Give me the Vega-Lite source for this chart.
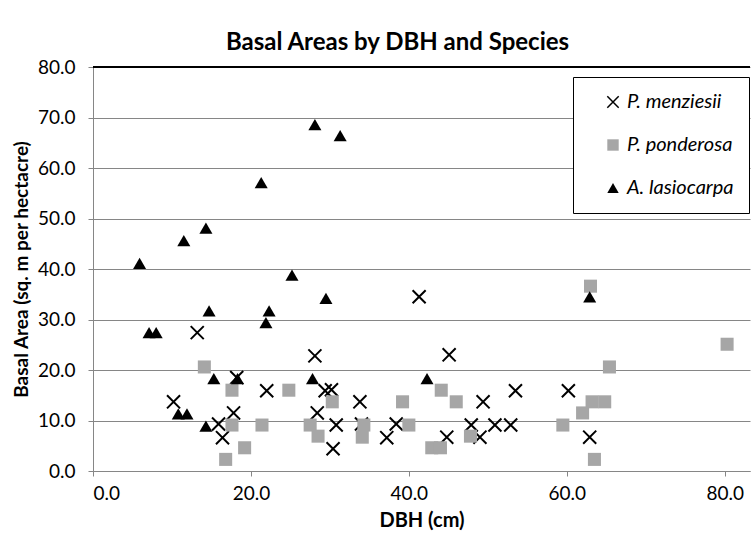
{
  "$schema": "https://vega.github.io/schema/vega-lite/v6.json",
  "width": 657,
  "height": 404,
  "autosize": "none",
  "padding": {"left": 93, "top": 67, "right": 5, "bottom": 70},
  "background": "white",
  "config": {"font": "Lato", "view": {"stroke": null}},
  "title": {"text": "Basal Areas by DBH and Species", "fontSize": 24, "fontWeight": "bold", "font": "Lato", "color": "#000000", "anchor": "middle", "dx": -24, "offset": 3},
  "data": {"values": [
    {"species": "P. menziesii", "dbh": 13.2, "ba": 27.4},
    {"species": "P. menziesii", "dbh": 28.1, "ba": 22.8},
    {"species": "P. menziesii", "dbh": 18.2, "ba": 18.5},
    {"species": "P. menziesii", "dbh": 22.0, "ba": 15.9},
    {"species": "P. menziesii", "dbh": 29.4, "ba": 15.9},
    {"species": "P. menziesii", "dbh": 30.2, "ba": 16.1},
    {"species": "P. menziesii", "dbh": 10.2, "ba": 13.7},
    {"species": "P. menziesii", "dbh": 17.8, "ba": 11.5},
    {"species": "P. menziesii", "dbh": 28.4, "ba": 11.5},
    {"species": "P. menziesii", "dbh": 33.8, "ba": 13.7},
    {"species": "P. menziesii", "dbh": 15.9, "ba": 9.3},
    {"species": "P. menziesii", "dbh": 16.4, "ba": 6.6},
    {"species": "P. menziesii", "dbh": 30.8, "ba": 9.1},
    {"species": "P. menziesii", "dbh": 30.4, "ba": 4.4},
    {"species": "P. menziesii", "dbh": 34.0, "ba": 9.3},
    {"species": "P. menziesii", "dbh": 37.2, "ba": 6.6},
    {"species": "P. menziesii", "dbh": 38.4, "ba": 9.3},
    {"species": "P. menziesii", "dbh": 41.3, "ba": 34.5},
    {"species": "P. menziesii", "dbh": 45.1, "ba": 23.0},
    {"species": "P. menziesii", "dbh": 49.4, "ba": 13.7},
    {"species": "P. menziesii", "dbh": 53.5, "ba": 15.9},
    {"species": "P. menziesii", "dbh": 44.8, "ba": 6.7},
    {"species": "P. menziesii", "dbh": 47.9, "ba": 9.1},
    {"species": "P. menziesii", "dbh": 49.0, "ba": 6.7},
    {"species": "P. menziesii", "dbh": 50.9, "ba": 9.1},
    {"species": "P. menziesii", "dbh": 52.9, "ba": 9.1},
    {"species": "P. menziesii", "dbh": 60.2, "ba": 15.9},
    {"species": "P. menziesii", "dbh": 62.9, "ba": 6.7},
    {"species": "P. ponderosa", "dbh": 14.1, "ba": 20.6},
    {"species": "P. ponderosa", "dbh": 17.6, "ba": 16.0},
    {"species": "P. ponderosa", "dbh": 24.8, "ba": 16.0},
    {"species": "P. ponderosa", "dbh": 30.3, "ba": 13.7},
    {"species": "P. ponderosa", "dbh": 17.6, "ba": 9.1},
    {"species": "P. ponderosa", "dbh": 21.4, "ba": 9.1},
    {"species": "P. ponderosa", "dbh": 27.5, "ba": 9.1},
    {"species": "P. ponderosa", "dbh": 28.5, "ba": 6.9},
    {"species": "P. ponderosa", "dbh": 19.2, "ba": 4.6},
    {"species": "P. ponderosa", "dbh": 16.8, "ba": 2.3},
    {"species": "P. ponderosa", "dbh": 34.3, "ba": 9.1},
    {"species": "P. ponderosa", "dbh": 34.1, "ba": 6.7},
    {"species": "P. ponderosa", "dbh": 39.2, "ba": 13.7},
    {"species": "P. ponderosa", "dbh": 40.0, "ba": 9.1},
    {"species": "P. ponderosa", "dbh": 44.1, "ba": 16.0},
    {"species": "P. ponderosa", "dbh": 46.0, "ba": 13.7},
    {"species": "P. ponderosa", "dbh": 42.9, "ba": 4.6},
    {"species": "P. ponderosa", "dbh": 44.0, "ba": 4.6},
    {"species": "P. ponderosa", "dbh": 47.8, "ba": 6.9},
    {"species": "P. ponderosa", "dbh": 59.5, "ba": 9.1},
    {"species": "P. ponderosa", "dbh": 62.0, "ba": 11.5},
    {"species": "P. ponderosa", "dbh": 63.2, "ba": 13.7},
    {"species": "P. ponderosa", "dbh": 64.8, "ba": 13.7},
    {"species": "P. ponderosa", "dbh": 63.0, "ba": 36.6},
    {"species": "P. ponderosa", "dbh": 65.4, "ba": 20.6},
    {"species": "P. ponderosa", "dbh": 63.5, "ba": 2.3},
    {"species": "P. ponderosa", "dbh": 80.3, "ba": 25.1},
    {"species": "A. lasiocarpa", "dbh": 28.1, "ba": 68.6},
    {"species": "A. lasiocarpa", "dbh": 31.3, "ba": 66.4},
    {"species": "A. lasiocarpa", "dbh": 21.3, "ba": 57.1},
    {"species": "A. lasiocarpa", "dbh": 14.3, "ba": 48.1},
    {"species": "A. lasiocarpa", "dbh": 11.5, "ba": 45.6},
    {"species": "A. lasiocarpa", "dbh": 5.9, "ba": 41.1},
    {"species": "A. lasiocarpa", "dbh": 25.2, "ba": 38.8},
    {"species": "A. lasiocarpa", "dbh": 29.5, "ba": 34.2},
    {"species": "A. lasiocarpa", "dbh": 14.7, "ba": 31.7},
    {"species": "A. lasiocarpa", "dbh": 22.3, "ba": 31.7},
    {"species": "A. lasiocarpa", "dbh": 21.9, "ba": 29.4},
    {"species": "A. lasiocarpa", "dbh": 7.1, "ba": 27.4},
    {"species": "A. lasiocarpa", "dbh": 8.0, "ba": 27.4},
    {"species": "A. lasiocarpa", "dbh": 15.3, "ba": 18.3},
    {"species": "A. lasiocarpa", "dbh": 18.3, "ba": 18.3},
    {"species": "A. lasiocarpa", "dbh": 27.8, "ba": 18.3},
    {"species": "A. lasiocarpa", "dbh": 10.8, "ba": 11.3},
    {"species": "A. lasiocarpa", "dbh": 11.9, "ba": 11.3},
    {"species": "A. lasiocarpa", "dbh": 14.3, "ba": 8.9},
    {"species": "A. lasiocarpa", "dbh": 42.3, "ba": 18.3},
    {"species": "A. lasiocarpa", "dbh": 62.9, "ba": 34.5}
  ]},
  "layer": [
    {
      "mark": {"type": "rule", "color": "#000000", "strokeWidth": 1.5},
      "encoding": {"y": {"datum": 80, "type": "quantitative"}}
    },
    {
      "mark": {"type": "point", "filled": true, "size": 170, "opacity": 1, "strokeWidth": 2},
      "encoding": {
        "x": {
          "field": "dbh", "type": "quantitative",
          "scale": {"domain": [0, 83.2], "nice": false, "zero": false},
          "axis": {
            "values": [0, 20, 40, 60, 80], "format": ".1f", "grid": false,
            "labelFontSize": 19, "labelColor": "#000000", "labelPadding": 8,
            "tickSize": 5, "tickColor": "#868686", "domainColor": "#868686",
            "title": "DBH (cm)", "titleFontSize": 20, "titleFontWeight": "bold", "titleColor": "#000000", "titlePadding": 7
          }
        },
        "y": {
          "field": "ba", "type": "quantitative",
          "scale": {"domain": [0, 80], "nice": false},
          "axis": {
            "values": [0, 10, 20, 30, 40, 50, 60, 70, 80], "format": ".1f", "grid": true,
            "gridColor": "#868686", "gridWidth": 1,
            "labelFontSize": 19, "labelColor": "#000000", "labelPadding": 13,
            "tickSize": 5, "tickColor": "#868686", "domainColor": "#868686",
            "title": "Basal Area (sq. m per hectacre)", "titleFontSize": 19, "titleFontWeight": "bold", "titleColor": "#000000", "titlePadding": 6
          }
        },
        "shape": {
          "field": "species", "type": "nominal",
          "scale": {"domain": ["P. menziesii", "P. ponderosa", "A. lasiocarpa"], "range": ["M-1,-1L1,1M-1,1L1,-1", "square", "triangle-up"]},
          "legend": {"orient": "none", "legendX": 480, "legendY": 10, "title": null, "strokeColor": "#000000", "fillColor": "#ffffff", "padding": 15, "rowPadding": 23, "labelFontSize": 20, "labelFontStyle": "italic", "labelColor": "#000000", "symbolSize": 130, "symbolStrokeWidth": 1.5, "symbolOffset": 15, "labelOffset": 4}
        },
        "fill": {
          "field": "species", "type": "nominal",
          "scale": {"domain": ["P. menziesii", "P. ponderosa", "A. lasiocarpa"], "range": ["transparent", "#a6a6a6", "#000000"]},
          "legend": {"orient": "none", "legendX": 480, "legendY": 10, "title": null, "strokeColor": "#000000", "fillColor": "#ffffff", "padding": 15, "rowPadding": 23, "labelFontSize": 20, "labelFontStyle": "italic", "labelColor": "#000000", "symbolSize": 130, "symbolStrokeWidth": 1.5, "symbolOffset": 15, "labelOffset": 4}
        },
        "stroke": {
          "field": "species", "type": "nominal",
          "scale": {"domain": ["P. menziesii", "P. ponderosa", "A. lasiocarpa"], "range": ["#000000", "transparent", "transparent"]},
          "legend": {"orient": "none", "legendX": 480, "legendY": 10, "title": null, "strokeColor": "#000000", "fillColor": "#ffffff", "padding": 15, "rowPadding": 23, "labelFontSize": 20, "labelFontStyle": "italic", "labelColor": "#000000", "symbolSize": 130, "symbolStrokeWidth": 1.5, "symbolOffset": 15, "labelOffset": 4}
        }
      }
    }
  ]
}
